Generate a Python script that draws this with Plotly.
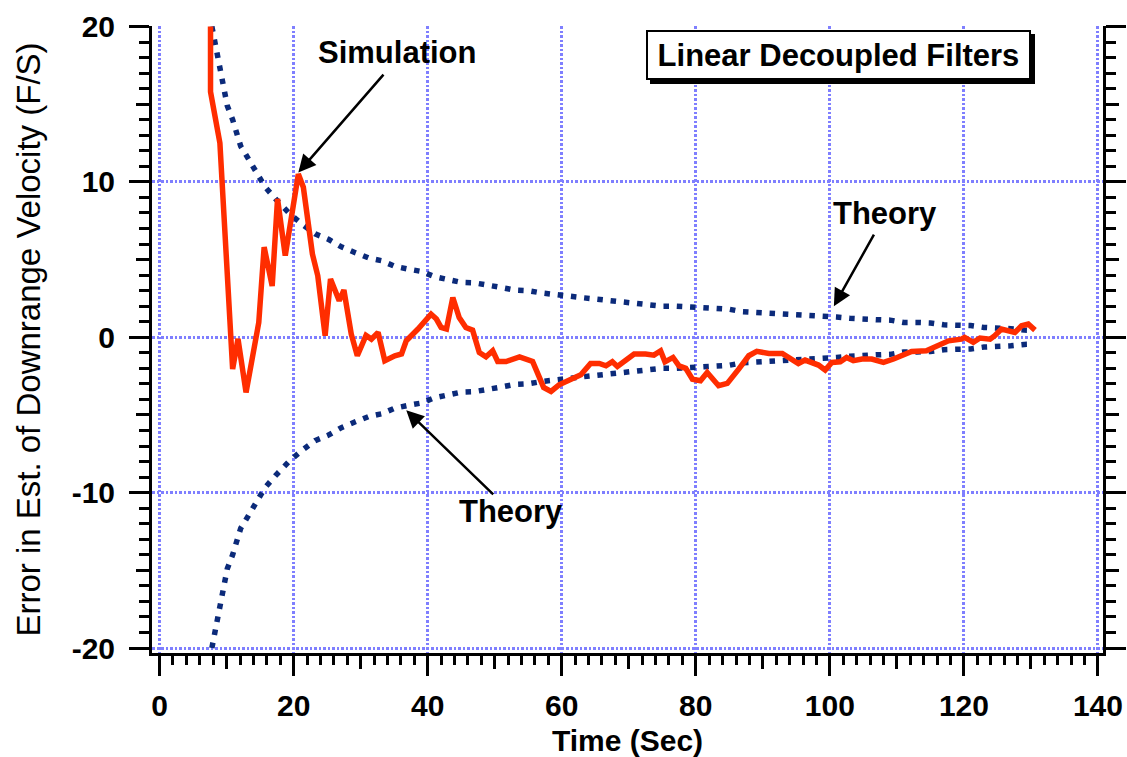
import plotly.graph_objects as go

# Simulated estimation error of downrange velocity (F/S) versus time (s)
sim_time = [7.6, 7.6, 9.0, 10.9, 11.7, 12.9, 14.8, 15.6, 16.8, 17.6, 18.75, 20.7, 21.45,
            22.8, 23.6, 24.7, 25.5, 26.8, 27.5, 28.6, 29.5, 30.8, 31.6, 32.6, 33.6, 35.1,
            36.1, 36.8, 38.55, 40.5, 41.3, 42.0, 42.8, 43.75, 44.7, 45.7, 46.7, 47.7, 48.7,
            49.7, 50.45, 51.7, 53.7, 55.65, 57.3, 58.4, 59.6, 60.9, 62.85, 64.3, 65.6, 66.6,
            67.55, 68.3, 69.55, 70.8, 72.5, 73.75, 74.75, 75.4, 76.6, 77.5, 78.5, 79.5, 80.7,
            81.7, 83.4, 84.7, 86.4, 87.9, 89.1, 90.9, 92.9, 95.3, 96.3, 98.3, 99.3, 100.3,
            101.55, 102.5, 103.5, 104.8, 106.25, 108.0, 109.5, 110.7, 112.2, 114.4, 116.2,
            117.7, 119.6, 120.1, 121.4, 122.4, 123.9, 124.6, 125.6, 127.1, 127.6, 128.6,
            129.6, 130.6]
sim_error = [20.0, 15.8, 12.5, -2.05, -0.1, -3.55, 0.95, 5.8, 3.3, 8.9, 5.25, 10.5, 9.65,
             5.36, 3.96, 0.1, 3.75, 2.35, 3.04, 0.2, -1.19, 0.12, -0.12, 0.31, -1.51, -1.19,
             -1.08, -0.23, 0.53, 1.49, 1.17, 0.63, 0.53, 2.56, 1.27, 0.63, 0.46, -0.98, -1.26,
             -0.87, -1.56, -1.56, -1.26, -1.56, -3.23, -3.49, -3.06, -2.8, -2.41, -1.69, -1.69,
             -1.84, -1.58, -1.88, -1.51, -1.08, -1.08, -1.15, -0.87, -1.58, -1.3, -1.84, -2.0,
             -2.7, -2.8, -2.27, -3.12, -2.97, -2.05, -1.19, -0.91, -1.04, -1.04, -1.69, -1.47,
             -1.79, -2.11, -1.62, -1.58, -1.3, -1.51, -1.4, -1.4, -1.62, -1.4, -1.19, -0.91,
             -0.87, -0.55, -0.23, -0.12, -0.01, -0.33, -0.05, -0.12, 0.1, 0.53, 0.42, 0.31,
             0.74, 0.85, 0.46]

# Theoretical one-sigma error bound (plotted as +sigma and -sigma)
theory_time = [7.8, 8.5, 9.3, 10.1, 10.9, 12.1, 13.3, 14.5, 15.7, 17.3, 19.3, 21.2, 23.2,
               25.2, 27.2, 29.2, 31.2, 33.1, 35.1, 37.0, 39.0, 41.0, 43.0, 45.0, 47.0, 49.0,
               51.0, 53.0, 55.0, 57.0, 59.0, 61.0, 63.0, 65.0, 67.0, 69.0, 71.0, 73.0, 75.0,
               77.0, 79.0, 81.0, 83.0, 85.0, 87.0, 89.0, 91.0, 93.0, 95.0, 97.0, 99.0, 101.0,
               103.0, 105.0, 107.0, 109.0, 111.0, 113.0, 115.0, 117.0, 119.0, 121.0, 123.0,
               125.0, 127.0, 129.0, 130.0]
theory_sigma = [20.0, 18.3, 16.6, 14.9, 14.0, 12.3, 11.45, 10.6, 9.7, 8.9, 8.0, 7.3, 6.65,
                6.3, 5.8, 5.44, 5.1, 4.93, 4.56, 4.39, 4.24, 3.9, 3.7, 3.53, 3.5, 3.38,
                3.2, 3.04, 3.0, 2.85, 2.72, 2.65, 2.55, 2.45, 2.35, 2.25, 2.18, 2.1, 2.0,
                2.0, 1.95, 1.85, 1.85, 1.8, 1.64, 1.6, 1.49, 1.49, 1.45, 1.4, 1.32, 1.3,
                1.22, 1.15, 1.13, 1.1, 0.95, 0.95, 0.92, 0.8, 0.8, 0.75, 0.63, 0.63, 0.55,
                0.46, 0.45]

x_major = [0, 20, 40, 60, 80, 100, 120, 140]
x_mid = [10, 30, 50, 70, 90, 110, 130]
y_major = [-20, -10, 0, 10, 20]
y_major_text = ["-20", "-10", "0", "10", "20"]
y_mid = [-15, -5, 5, 15]

X_RANGE = [-1.13, 140.75]
Y_RANGE = [-20.32, 20.03]

FONT = "Liberation Sans, Arial, Helvetica, sans-serif"
SIM_RED = "#ff2d00"
THEORY_BLUE = "#0b2a7a"
GRID_BLUE = "#7f7fff"

fig = go.Figure()

theory_line = dict(color=THEORY_BLUE, width=5.5, dash="5.5px,7.8px")
fig.add_trace(go.Scatter(x=theory_time, y=theory_sigma, mode="lines",
                         line=theory_line, showlegend=False, hoverinfo="skip"))
fig.add_trace(go.Scatter(x=theory_time, y=[-s for s in theory_sigma], mode="lines",
                         line=theory_line, showlegend=False, hoverinfo="skip"))
fig.add_trace(go.Scatter(x=sim_time, y=sim_error, mode="lines",
                         line=dict(color=SIM_RED, width=5.5), showlegend=False))
# empty trace that carries the overlay axes for the mid-length ticks
fig.add_trace(go.Scatter(x=[None], y=[None], xaxis="x2", yaxis="y2",
                         showlegend=False, hoverinfo="skip"))

tick_font = dict(family=FONT, size=30, color="black", weight="bold")

fig.update_layout(
    width=1127, height=757, autosize=False,
    margin=dict(l=152, r=24, t=26, b=104),
    paper_bgcolor="white", plot_bgcolor="white",
    xaxis=dict(
        range=X_RANGE, tickmode="array", tickvals=x_major, automargin=False,
        ticks="outside", ticklen=20, tickwidth=2.5, tickcolor="black",
        showline=True, linewidth=3, linecolor="black",
        showgrid=True, gridcolor=GRID_BLUE, gridwidth=2.5, griddash="2.5px,2px",
        zeroline=False, tickfont=tick_font, ticklabelstandoff=4,
        minor=dict(tickmode="linear", tick0=0, dtick=2, ticks="outside",
                   ticklen=9, tickwidth=2.5, tickcolor="black", showgrid=False),
        title=dict(text="Time (Sec)", standoff=10,
                   font=dict(family=FONT, size=30, color="black", weight="bold")),
    ),
    yaxis=dict(
        range=Y_RANGE, tickmode="array", tickvals=y_major, ticktext=y_major_text,
        automargin=False,
        ticks="outside", ticklen=20, tickwidth=2.5, tickcolor="black",
        showline=True, linewidth=3, linecolor="black", mirror="ticks",
        showgrid=True, gridcolor=GRID_BLUE, gridwidth=2.5, griddash="2.5px,2px",
        zeroline=False, tickfont=tick_font, ticklabelstandoff=8,
        minor=dict(tickmode="linear", tick0=0, dtick=1, ticks="outside",
                   ticklen=10, tickwidth=2.5, tickcolor="black", showgrid=False),
        title=dict(text="Error in Est. of Downrange Velocity (F/S)", standoff=22,
                   font=dict(family=FONT, size=33, color="black")),
    ),
    xaxis2=dict(
        overlaying="x", anchor="y2", side="bottom", range=X_RANGE, automargin=False,
        tickmode="array", tickvals=x_mid, ticks="outside", ticklen=15,
        tickwidth=2.5, tickcolor="black", showticklabels=False,
        showgrid=False, showline=False, zeroline=False),
    yaxis2=dict(
        overlaying="y", anchor="x2", side="left", range=Y_RANGE, automargin=False,
        tickmode="array", tickvals=y_mid, ticks="outside", ticklen=15,
        tickwidth=2.5, tickcolor="black", showticklabels=False, mirror="ticks",
        showgrid=False, showline=False, zeroline=False),
)

label_font = dict(family=FONT, size=31, color="black", weight="bold")
arrow_style = dict(text="", showarrow=True, axref="x", ayref="y", arrowhead=2,
                   arrowsize=1.4, arrowwidth=2.5, arrowcolor="black", standoff=0)

annotations = [
    # callout labels
    dict(x=35.4, y=18.3, text="Simulation", showarrow=False, font=label_font),
    dict(x=108.3, y=7.95, text="Theory", showarrow=False, font=label_font),
    dict(x=52.5, y=-11.2, text="Theory", showarrow=False, font=label_font),
    # callout arrows
    dict(x=20.7, y=10.6, ax=33.6, ay=17.0, **arrow_style),
    dict(x=100.6, y=2.0, ax=106.7, ay=6.7, **arrow_style),
    dict(x=36.8, y=-4.7, ax=50.0, ay=-10.2, **arrow_style),
    # drop shadow behind the boxed label
    dict(x=101.3, y=18.18, text=" ", showarrow=False,
         width=377, height=42, borderpad=2, borderwidth=2,
         bordercolor="black", bgcolor="black", xshift=4, yshift=-4),
    dict(x=101.3, y=18.18, text="Linear Decoupled Filters", showarrow=False,
         font=dict(family=FONT, size=31, color="black", weight="bold"),
         width=377, height=42, borderpad=2, borderwidth=2,
         bordercolor="black", bgcolor="white"),
]
fig.update_layout(annotations=annotations)

fig.write_html("out.html")
